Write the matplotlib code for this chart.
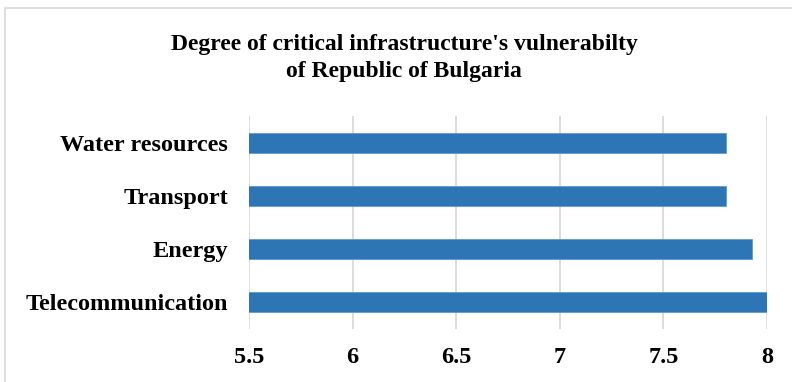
import matplotlib.pyplot as plt
from matplotlib.patches import Rectangle

# data
categories = ["Telecommunication", "Energy", "Transport", "Water resources"]
values = [8.0, 7.93, 7.8, 7.8]
x_ticks = [5.5, 6, 6.5, 7, 7.5, 8]
x_tick_labels = ["5.5", "6", "6.5", "7", "7.5", "8"]
title = "Degree of critical infrastructure's vulnerabilty\nof Republic of Bulgaria"

plt.rcParams["font.family"] = ["Liberation Serif", "DejaVu Serif"]
plt.rcParams["font.weight"] = "bold"

fig = plt.figure(figsize=(7.92, 3.82), dpi=100)
W, H = 792, 382
ax = fig.add_axes([249 / W, 1 - 328.5 / H, (767 - 249) / W, 212 / H])

ax.barh(range(len(categories)), values, height=0.36, color="#2e75b6",
        edgecolor="#5b9bd5", linewidth=0.6, zorder=3)
ax.set_xlim(5.5, 8)
ax.set_ylim(-0.5, len(categories) - 0.5)
ax.set_xticks(x_ticks)
ax.set_xticklabels(x_tick_labels, fontsize=17.5, fontweight="bold")
ax.set_yticks(range(len(categories)))
ax.set_yticklabels(categories, fontsize=17.5, fontweight="bold")
ax.tick_params(axis="x", length=0, pad=13)
ax.tick_params(axis="y", length=0, pad=15)
ax.grid(axis="x", color="#d9d9d9", linewidth=1.3, zorder=0)
for s in ax.spines.values():
    s.set_visible(False)

fig.text(404 / W, 1 - 58 / H, title, ha="center", va="center",
         fontsize=17, fontweight="bold", linespacing=1.4)

# light frame around the chart area
fig.patches.append(Rectangle((5 / W, -0.02), 1.0, 1 - 8 / H + 0.02,
                             transform=fig.transFigure, fill=False,
                             edgecolor="#d9d9d9", linewidth=1.2))

fig.savefig("out.png", dpi=100)
